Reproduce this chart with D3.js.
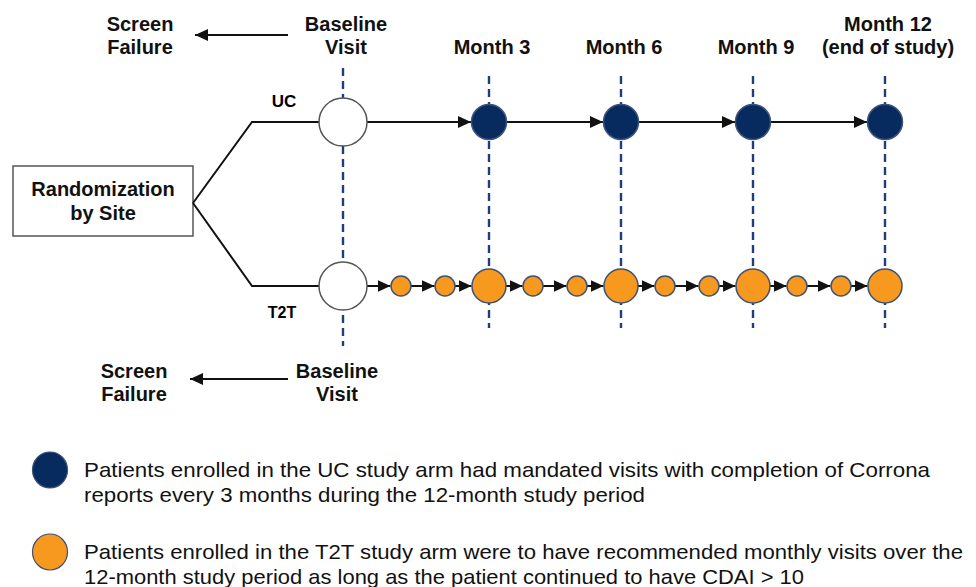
<!DOCTYPE html>
<html>
<head>
<meta charset="utf-8">
<script src="https://cdn.jsdelivr.net/npm/d3@7"></script>
<style>
  html, body { margin: 0; padding: 0; background: #fff; }
  svg { display: block; font-family: "Liberation Sans", Arial, sans-serif; }
  .legend-text { font-family: "Liberation Sans Narrow", "Arial Narrow", "Liberation Sans", Arial, sans-serif; }
</style>
</head>
<body>
<svg id="chart" width="976" height="587"></svg>
<script>
// ---- Data ----
const arms = ["UC", "T2T"];
const ucVisitMonths = [3, 6, 9, 12];
const t2tVisitMonths = [1, 2, 3, 4, 5, 6, 7, 8, 9, 10, 11, 12];
const quarterMonths = [3, 6, 9, 12];
const timepointMonths = [0, 3, 6, 9, 12];
const timepointLabels = [
  ["Baseline", "Visit"],
  ["Month 3"],
  ["Month 6"],
  ["Month 9"],
  ["Month 12", "(end of study)"]
];
const screenLabel = ["Screen", "Failure"];
const baselineLabel = ["Baseline", "Visit"];
const randomLabel = ["Randomization", "by Site"];
const legendTexts = [
  ["Patients enrolled in the UC study arm had mandated visits with completion of Corrona",
   "reports every 3 months during the 12-month study period"],
  ["Patients enrolled in the T2T study arm were to have recommended monthly visits over the",
   "12-month study period as long as the patient continued to have CDAI > 10"]
];

// ---- Styles ----
const NAVY = "#072a5f";
const ORANGE = "#f7981f";
const DASH = "#1e3f7c";
const LABEL_SIZE = 20;

const svg = d3.select("#chart");

// month -> x, arm -> y
const x = d3.scaleLinear().domain([0, 1, 12]).range([343, 401, 885]);
const y = d3.scalePoint().domain(arms).range([122, 286]);

const rBase = 24, rBig = 17, rSmall = 10;

svg.append("defs").append("marker")
  .attr("id", "arrow")
  .attr("markerUnits", "userSpaceOnUse")
  .attr("markerWidth", 14).attr("markerHeight", 12)
  .attr("refX", 13).attr("refY", 6)
  .attr("orient", "auto")
  .append("path")
  .attr("d", "M0,0L13,6L0,12Z")
  .attr("fill", "#111");

// ---- Dashed timepoint lines ----
svg.append("g").selectAll("line")
  .data(timepointMonths)
  .join("line")
  .attr("x1", d => x(d)).attr("x2", d => x(d))
  .attr("y1", d => d === 0 ? 68 : 76)
  .attr("y2", d => d === 0 ? 346 : 328)
  .attr("stroke", DASH)
  .attr("stroke-width", 2.4)
  .attr("stroke-dasharray", "8,5");

// ---- Timepoint labels (top) ----
function boldGroup() {
  return svg.append("g")
    .attr("font-weight", "bold").attr("font-size", LABEL_SIZE)
    .attr("text-anchor", "middle").attr("fill", "#111");
}
const topLabels = boldGroup();
timepointMonths.forEach((m, i) => {
  const lines = timepointLabels[i];
  const base = lines.length === 2 ? 31 : 54;
  lines.forEach((t, j) => {
    topLabels.append("text")
      .attr("x", x(m) + 3)
      .attr("y", base + j * 23)
      .text(t);
  });
});

// ---- Screen failure labels + arrows ----
function screenBlock(yTop, baseX, arrowY, tipX) {
  const g = boldGroup();
  screenLabel.forEach((t, j) => g.append("text").attr("x", baseX).attr("y", yTop + j * 23).text(t));
  svg.append("line")
    .attr("x1", 288).attr("x2", tipX)
    .attr("y1", arrowY).attr("y2", arrowY)
    .attr("stroke", "#111").attr("stroke-width", 2)
    .attr("marker-end", "url(#arrow)");
}
screenBlock(31, 140, 35, 195);
screenBlock(378, 134, 379, 190);
const botBase = boldGroup();
baselineLabel.forEach((t, j) =>
  botBase.append("text").attr("x", x(0) - 6).attr("y", 378 + j * 23).text(t));

// ---- Randomization box and branches ----
svg.append("rect")
  .attr("x", 13).attr("y", 166).attr("width", 180).attr("height", 70)
  .attr("fill", "#fff").attr("stroke", "#555").attr("stroke-width", 1.5);
const rText = boldGroup();
randomLabel.forEach((t, j) =>
  rText.append("text").attr("x", 103).attr("y", 196 + j * 24).text(t));

const branch = d3.line();
arms.forEach(a => {
  svg.append("path")
    .attr("d", branch([[193, 203], [252, y(a)], [x(0) - rBase, y(a)]]))
    .attr("fill", "none").attr("stroke", "#111").attr("stroke-width", 2);
});

svg.append("text").attr("x", 284).attr("y", 107)
  .attr("text-anchor", "middle").attr("font-weight", "bold").attr("font-size", 17)
  .text("UC");
svg.append("text").attr("x", 282).attr("y", 318)
  .attr("text-anchor", "middle").attr("font-weight", "bold").attr("font-size", 16)
  .text("T2T");

// ---- Arm visit sequences ----
function drawArm(arm, months, radius, fill, stroke) {
  const nodes = [{ m: 0, r: rBase }].concat(months.map(m => ({ m, r: radius(m) })));
  const yy = y(arm);
  const g = svg.append("g");
  for (let i = 0; i < nodes.length - 1; i++) {
    const a = nodes[i], b = nodes[i + 1];
    g.append("line")
      .attr("x1", x(a.m) + a.r).attr("x2", x(b.m) - b.r - 0.5)
      .attr("y1", yy).attr("y2", yy)
      .attr("stroke", "#111").attr("stroke-width", 2)
      .attr("marker-end", "url(#arrow)");
  }
  g.append("circle")
    .attr("cx", x(0)).attr("cy", yy).attr("r", rBase)
    .attr("fill", "#fff").attr("stroke", "#555").attr("stroke-width", 1.5);
  g.selectAll("circle.visit")
    .data(nodes.slice(1))
    .join("circle")
    .attr("class", "visit")
    .attr("cx", d => x(d.m)).attr("cy", yy).attr("r", d => d.r)
    .attr("fill", fill).attr("stroke", stroke).attr("stroke-width", 1.5);
}
drawArm("UC", ucVisitMonths, () => rBig + 0.5, NAVY, "#3d5379");
drawArm("T2T", t2tVisitMonths, m => quarterMonths.includes(m) ? rBig : rSmall, ORANGE, "#3f5273");

// ---- Legend ----
const legendFills = [NAVY, ORANGE];
const legendLens = [[846, 561], [879, 720]];
legendTexts.forEach((lines, i) => {
  const cy = 470 + i * 82;
  svg.append("ellipse")
    .attr("cx", 50).attr("cy", cy).attr("rx", 17.5).attr("ry", 18)
    .attr("fill", legendFills[i]).attr("stroke", "#3f5273").attr("stroke-width", 1.2);
  lines.forEach((t, j) => {
    svg.append("text")
      .attr("class", "legend-text")
      .attr("x", 84).attr("y", cy + 7 + j * 25)
      .attr("font-size", 21).attr("fill", "#111")
      .attr("textLength", legendLens[i][j])
      .attr("lengthAdjust", "spacingAndGlyphs")
      .text(t);
  });
});
</script>
</body>
</html>
